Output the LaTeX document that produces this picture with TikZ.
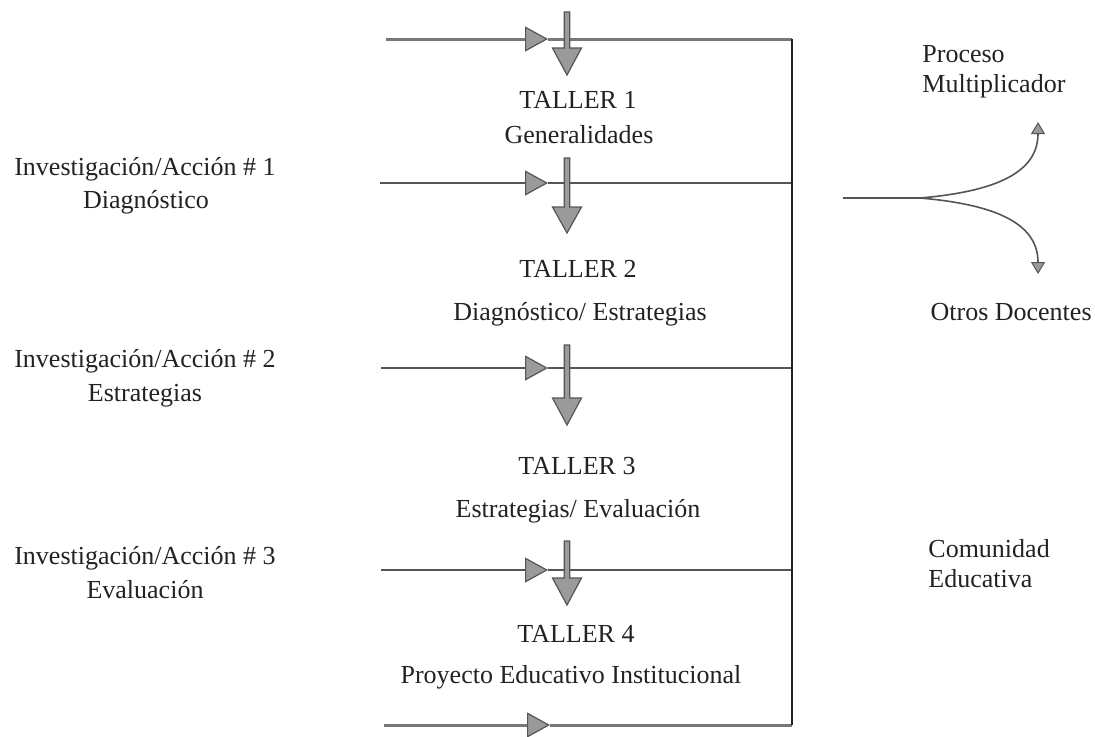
\documentclass[tikz,border=0pt]{standalone}
\usepackage{fontspec}
\setmainfont{Liberation Serif}
\usetikzlibrary{arrows.meta}
\definecolor{ink}{HTML}{222222}
\definecolor{lin}{HTML}{555555}
\definecolor{fillg}{HTML}{9A9A9A}
\tikzset{
  txt/.style={font=\fontsize{13}{15}\selectfont, text=ink, inner sep=0pt, anchor=base},
  txtl/.style={txt, anchor=base west},
  txtr/.style={txt, anchor=base east},
  hline/.style={draw=lin, line width=1pt},
  hlinethick/.style={draw=lin!80, line width=1.5pt},
  vline/.style={draw=ink, line width=1.4pt},
  rtip/.style={-{Triangle[width=12.5pt,length=11.5pt,fill=fillg,color=lin,line width=0.6pt]}},
  downarr/.style={fill=fillg, draw=lin, line width=0.6pt},
  fork/.style={draw=lin, line width=0.8pt},
  ftip/.style={-{Triangle[width=7pt,length=6pt,fill=fillg,color=lin,line width=0.5pt]}}
}
\newcommand{\dnarrow}[4]{% x, top, tri top, tip
  \filldraw[downarr] (#1-2.8,#2) -- (#1+2.8,#2) -- (#1+2.8,#3) -- (#1+14.5,#3) -- (#1,#4) -- (#1-14.5,#3) -- (#1-2.8,#3) -- cycle;
}
\begin{document}
\begin{tikzpicture}[x=0.5pt,y=-0.5pt]
\useasboundingbox (0,0) rectangle (1095,736);

% coordinates
\coordinate (L1a) at (386,39);  \coordinate (T1) at (548,39);  \coordinate (R1) at (792,39);
\coordinate (L2a) at (380,183); \coordinate (T2) at (548,183); \coordinate (R2) at (792,183);
\coordinate (L3a) at (381,368); \coordinate (T3) at (548,368); \coordinate (R3) at (792,368);
\coordinate (L4a) at (381,570); \coordinate (T4) at (548,570); \coordinate (R4) at (792,570);
\coordinate (L5a) at (384,725); \coordinate (T5) at (550,725); \coordinate (R5) at (792,725);

% horizontal lines
\draw[hlinethick, rtip] (L1a) -- (T1);
\draw[hlinethick] (T1) -- (R1);
\draw[hline, rtip] (L2a) -- (T2);
\draw[hline] (T2) -- (R2);
\draw[hline, rtip] (L3a) -- (T3);
\draw[hline] (T3) -- (R3);
\draw[hline, rtip] (L4a) -- (T4);
\draw[hline] (T4) -- (R4);
\draw[hlinethick, rtip] (L5a) -- (T5);
\draw[hlinethick] (T5) -- (R5);

% vertical line
\draw[vline] (R1) -- (R5);

% down arrows
\dnarrow{567}{12}{48}{75}
\dnarrow{567}{158}{207}{233}
\dnarrow{567}{345}{398}{425}
\dnarrow{567}{541}{578}{605}

% centre texts
\node[txt] (t1) at (578,108) {TALLER 1};
\node[txt] (g1) at (579,143) {Generalidades};
\node[txt] (t2) at (578,277) {TALLER 2};
\node[txt] (g2) at (580,320) {Diagnóstico/ Estrategias};
\node[txt] (t3) at (577,474) {TALLER 3};
\node[txt] (g3) at (578,517) {Estrategias/ Evaluación};
\node[txt] (t4) at (576,642) {TALLER 4};
\node[txt] (g4) at (571,683) {Proyecto Educativo Institucional};

% left texts
\node[txt] (i1) at (145,175) {Investigación/Acción \# 1};
\node[txt] (d1) at (146,208) {Diagnóstico};
\node[txt] (i2) at (145,367) {Investigación/Acción \# 2};
\node[txt] (d2) at (145,401) {Estrategias};
\node[txt] (i3) at (145,564) {Investigación/Acción \# 3};
\node[txt] (d3) at (145,598) {Evaluación};

% right texts
\node[txtl] (p1) at (922,62) {Proceso};
\node[txtl] (p2) at (922,92) {Multiplicador};
\node[txtr] (o1) at (1092,320) {Otros Docentes};
\node[txtl] (c1) at (928,557) {Comunidad};
\node[txtl] (c2) at (928,587) {Educativa};

% fork
\coordinate (F0) at (843,198);
\coordinate (F1) at (920,198);
\coordinate (Fu) at (1038,122);
\coordinate (Fd) at (1038,274);
\draw[fork] (F0) -- (F1);
\draw[fork, ftip] (F1) .. controls (990,192) and (1038,175) .. (Fu);
\draw[fork, ftip] (F1) .. controls (990,204) and (1038,221) .. (Fd);
\end{tikzpicture}
\end{document}
